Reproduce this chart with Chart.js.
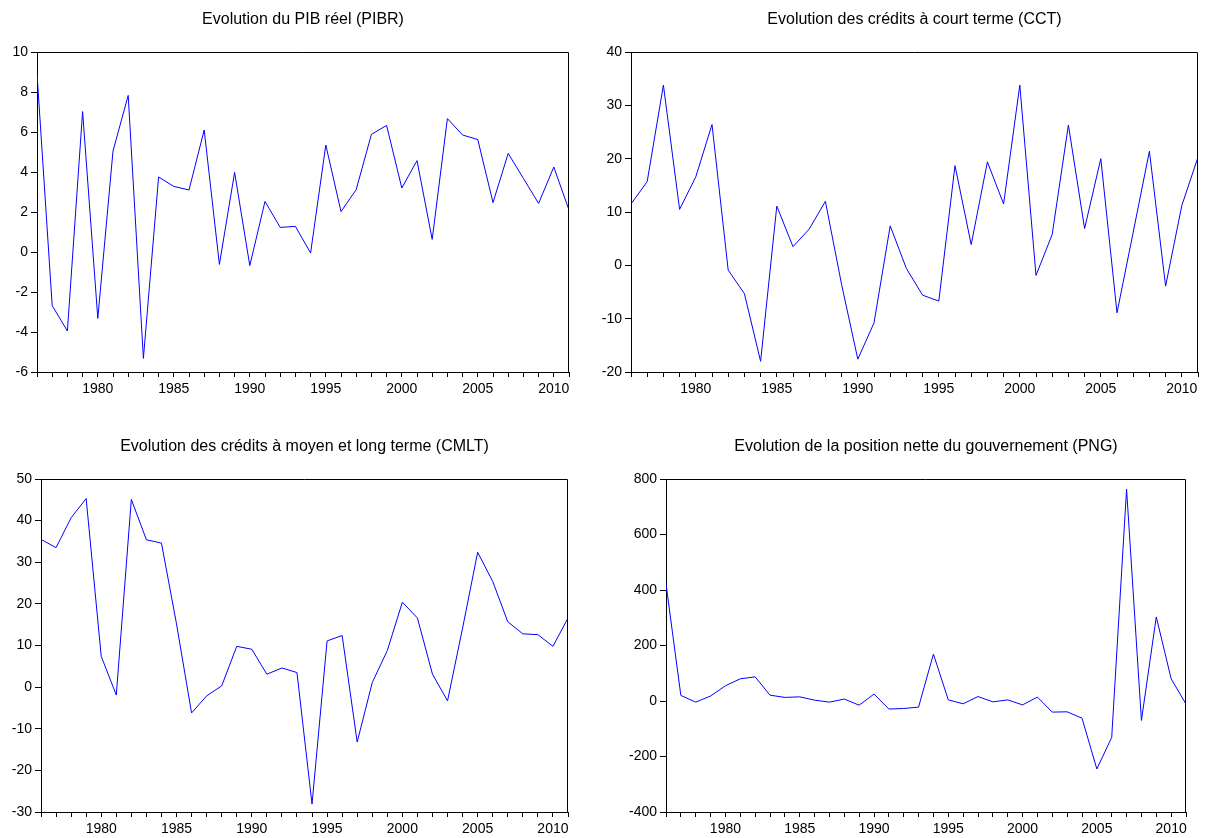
<!DOCTYPE html>
<html>
<head>
<meta charset="utf-8">
<script src="https://cdn.jsdelivr.net/npm/chart.js@4.4.0/dist/chart.umd.min.js"></script>
<style>
  html, body { margin: 0; padding: 0; background: #fff; }
  #wrap { position: relative; width: 1207px; height: 838px; }
  #wrap canvas { position: absolute; left: 0; top: 0; }
</style>
</head>
<body>
<div id="wrap">
  <canvas id="c1" width="1207" height="838"></canvas>
  <canvas id="c2" width="1207" height="838"></canvas>
  <canvas id="c3" width="1207" height="838"></canvas>
  <canvas id="c4" width="1207" height="838"></canvas>
</div>
<script>
// years 1976..2011
const years = [1976, 1977, 1978, 1979, 1980, 1981, 1982, 1983, 1984, 1985,
  1986, 1987, 1988, 1989, 1990, 1991, 1992, 1993, 1994, 1995,
  1996, 1997, 1998, 1999, 2000, 2001, 2002, 2003, 2004, 2005,
  2006, 2007, 2008, 2009, 2010, 2011];

const pibr = [8.93, -2.68, -3.95, 7.02, -3.32, 5.05, 7.83, -5.32, 3.75, 3.28,
  3.1, 6.1, -0.62, 3.98, -0.68, 2.53, 1.23, 1.28, -0.05, 5.35,
  2.02, 3.12, 5.88, 6.33, 3.2, 4.57, 0.63, 6.67, 5.85, 5.62,
  2.47, 4.93, 3.68, 2.43, 4.25, 2.1];

const cct = [11.5, 15.7, 33.8, 10.5, 16.6, 26.4, -0.9, -5.3, -18, 11.1,
  3.5, 6.8, 12, -3.6, -17.6, -10.8, 7.4, -0.6, -5.6, -6.7,
  18.7, 3.9, 19.4, 11.5, 33.8, -1.9, 5.8, 26.3, 6.9, 20.0,
  -8.9, 6.2, 21.4, -3.9, 11.2, 20.3];

const cmlt = [35.5, 33.5, 40.7, 45.3, 7.4, -1.9, 45.1, 35.4, 34.6, 15.2,
  -6.2, -2.1, 0.3, 9.8, 9.1, 3.1, 4.6, 3.5, -28.1, 11.1,
  12.4, -13.2, 1.1, 8.8, 20.4, 16.6, 3.1, -3.3, 14.2, 32.4,
  25.4, 15.7, 12.8, 12.6, 9.8, 16.6];

const png = [422, 20, -4, 18, 55, 80, 87, 21, 13, 15,
  3, -4, 7, -15, 25, -29, -27, -22, 169, 4,
  -10, 16, -3, 4, -14, 14, -40, -39, -62, -245,
  -131, 763, -70, 303, 80, -11];

const titles = [
  "Evolution du PIB réel (PIBR)",
  "Evolution des crédits à court terme (CCT)",
  "Evolution des crédits à moyen et long terme (CMLT)",
  "Evolution de la position nette du gouvernement (PNG)"
];

const FONT = "'Liberation Sans', Arial, sans-serif";
const W = 1207, H = 838;
const Y_AXIS_W = 40, X_AXIS_H = 26;

// frame on top/right + title centred over the plot area
const framePlugin = {
  id: "frame",
  afterDraw(chart, args, opts) {
    const { ctx, chartArea: a } = chart;
    ctx.save();
    ctx.strokeStyle = "#000";
    ctx.lineWidth = 1;
    ctx.beginPath();
    ctx.moveTo(a.left, a.top + 0.5);
    ctx.lineTo(a.right - 0.5, a.top + 0.5);
    ctx.lineTo(a.right - 0.5, a.bottom);
    ctx.stroke();
    ctx.fillStyle = "#000";
    ctx.font = "16px " + FONT;
    ctx.textAlign = "center";
    ctx.textBaseline = "middle";
    ctx.fillText(opts.text, (a.left + a.right) / 2, a.top - 32);
    ctx.restore();
  }
};

const makePanel = (id, values, title, area, yMin, yMax, yStep) => {
  const ctx = document.getElementById(id).getContext("2d");
  return new Chart(ctx, {
    type: "line",
    data: {
      datasets: [{
        data: years.map((y, i) => ({ x: y, y: values[i] })),
        borderColor: "#0000ff",
        borderWidth: 1,
        pointRadius: 0,
        tension: 0,
        fill: false
      }]
    },
    options: {
      responsive: false,
      animation: false,
      layout: {
        padding: {
          left: area.left - Y_AXIS_W,
          right: W - area.right,
          top: area.top,
          bottom: H - area.bottom - X_AXIS_H
        }
      },
      plugins: {
        legend: { display: false },
        tooltip: { enabled: false },
        frame: { text: title }
      },
      scales: {
        x: {
          type: "linear",
          min: 1976,
          max: 2011,
          afterFit: (s) => { s.height = X_AXIS_H; },
          border: { display: true, color: "#000", width: 1 },
          grid: { drawOnChartArea: false, drawTicks: true, tickLength: 5, color: "#000" },
          ticks: {
            stepSize: 1,
            autoSkip: false,
            maxRotation: 0,
            padding: 4,
            color: "#000",
            font: { family: FONT, size: 14 },
            callback: (v) => (v % 5 === 0 ? String(v) : "")
          }
        },
        y: {
          min: yMin,
          max: yMax,
          afterFit: (s) => { s.width = Y_AXIS_W; },
          border: { display: true, color: "#000", width: 1 },
          grid: { drawOnChartArea: false, drawTicks: true, tickLength: 6, color: "#000" },
          ticks: {
            stepSize: yStep,
            padding: 3,
            color: "#000",
            font: { family: FONT, size: 14 }
          }
        }
      }
    },
    plugins: [framePlugin]
  });
};

makePanel("c1", pibr, titles[0], { left: 37, right: 569, top: 52, bottom: 372 }, -6, 10, 2);
makePanel("c2", cct, titles[1], { left: 631, right: 1198, top: 52, bottom: 372 }, -20, 40, 10);
makePanel("c3", cmlt, titles[2], { left: 41, right: 568, top: 479, bottom: 812 }, -30, 50, 10);
makePanel("c4", png, titles[3], { left: 666, right: 1186, top: 479, bottom: 812 }, -400, 800, 200);
</script>
</body>
</html>
